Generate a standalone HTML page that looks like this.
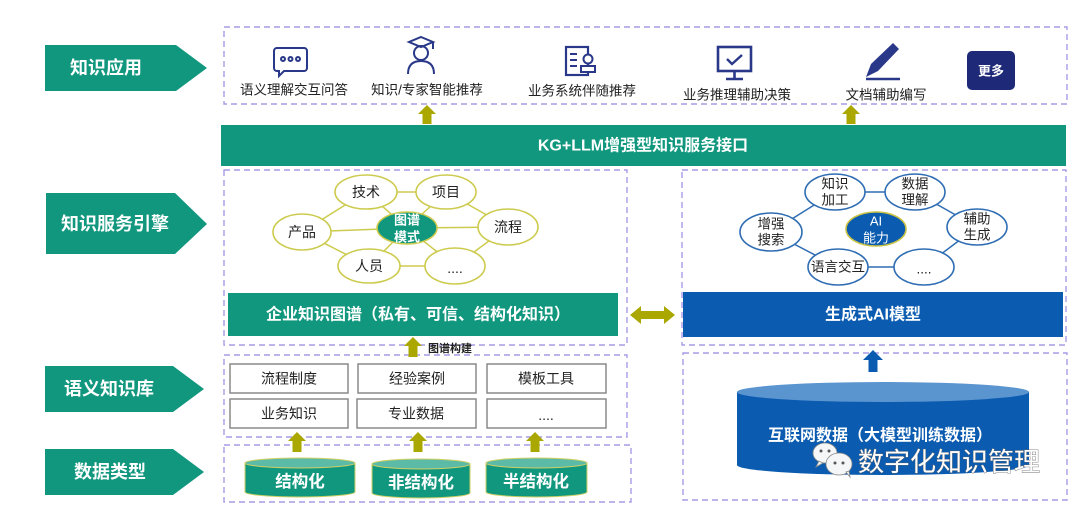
<!DOCTYPE html>
<html><head><meta charset="utf-8">
<style>
html,body{margin:0;padding:0;background:#fff;}
svg{display:block;}
text{font-family:"Liberation Sans","Noto Sans CJK SC",sans-serif;}
</style></head>
<body>
<svg width="1080" height="509" viewBox="0 0 1080 509" xmlns="http://www.w3.org/2000/svg">
<rect width="1080" height="509" fill="#fff"/>

<!-- left labels -->
<g fill="#10977e">
<polygon points="45,45 176,45 207,68 176,91 45,91"/>
<polygon points="46,193 175,193 207,224 175,254 46,254"/>
<polygon points="45,366 173,366 204,389 173,412 45,412"/>
<polygon points="45,449 173,449 204,472 173,495 45,495"/>
</g>
<g fill="#fff" font-size="18" font-weight="bold" text-anchor="middle" dominant-baseline="central">
<text x="106" y="68">知识应用</text>
<text x="115" y="224">知识服务引擎</text>
<text x="109" y="389">语义知识库</text>
<text x="110" y="472">数据类型</text>
</g>

<!-- dashed boxes -->
<g fill="none" stroke="#a99be6" stroke-width="1.4" stroke-dasharray="6,4">
<rect x="224" y="27" width="843" height="77"/>
<rect x="224" y="170" width="403" height="175"/>
<rect x="682" y="170" width="384" height="175"/>
<rect x="224" y="355" width="403" height="82"/>
<rect x="224" y="445" width="407" height="57"/>
<rect x="683" y="353" width="384" height="147"/>
</g>

<!-- icons -->
<g fill="none" stroke="#2a3889" stroke-width="2">
<path d="M277,48 h27 a3,3 0 0 1 3,3 v17 a3,3 0 0 1 -3,3 h-20 l-5,5 v-5 h-2 a3,3 0 0 1 -3,-3 v-17 a3,3 0 0 1 3,-3 z"/>
<circle cx="283" cy="59" r="2"/><circle cx="290.5" cy="59" r="2"/><circle cx="298" cy="59" r="2"/>
<polygon points="421,37 433,42 421,47 409,42"/>
<line x1="433" y1="42" x2="433" y2="49"/>
<circle cx="421" cy="53" r="7"/>
<path d="M408,74 q0,-13 13,-13 q13,0 13,13"/>
<rect x="566" y="47" width="22" height="28" stroke-width="2.2"/>
<line x1="570" y1="54" x2="577" y2="54"/><line x1="570" y1="60" x2="577" y2="60"/><line x1="570" y1="66" x2="577" y2="66"/>
<circle cx="588" cy="59" r="4.5" fill="#fff"/>
<rect x="581" y="66" width="14" height="6" fill="#fff"/>
<rect x="718" y="47" width="33" height="24" stroke-width="2.6"/>
<path d="M727,59 l5,5 l10,-9" stroke-width="2.4"/>
<line x1="734.5" y1="71" x2="734.5" y2="78" stroke-width="2.6"/>
<line x1="726" y1="79" x2="743" y2="79" stroke-width="2.6"/>
<line x1="866" y1="79" x2="900" y2="79" stroke-width="2.4"/>
</g>
<polygon points="866,77 871,64 893,43 899,49 878,71" fill="#2a3889"/>
<rect x="967" y="51" width="48" height="39" rx="5" fill="#1e2a78"/>
<text x="991" y="71" fill="#fff" font-size="13" font-weight="bold" text-anchor="middle" dominant-baseline="central">更多</text>

<g fill="#222" font-size="13.5" text-anchor="middle" dominant-baseline="central">
<text x="294" y="90">语义理解交互问答</text>
<text x="427" y="90">知识/专家智能推荐</text>
<text x="582" y="91">业务系统伴随推荐</text>
<text x="737" y="95">业务推理辅助决策</text>
<text x="886" y="95">文档辅助编写</text>
</g>

<!-- olive arrows top -->
<g fill="#aaa700">
<polygon points="418,114 427,105 436,114 431.5,114 431.5,124 422.5,124 422.5,114"/>
<polygon points="842,114 851,105 860,114 855.5,114 855.5,124 846.5,124 846.5,114"/>
</g>

<!-- KG bar -->
<rect x="221" y="125" width="845" height="41" fill="#10977e"/>
<text x="643" y="146" fill="#fff" font-size="16" font-weight="bold" text-anchor="middle" dominant-baseline="central">KG+LLM增强型知识服务接口</text>

<!-- left graph -->
<g stroke="#cdcb4e" stroke-width="1.5">
<line x1="366" y1="192" x2="446" y2="192"/>
<line x1="446" y1="192" x2="508" y2="227"/>
<line x1="508" y1="227" x2="455" y2="266"/>
<line x1="455" y1="266" x2="369" y2="266"/>
<line x1="369" y1="266" x2="302" y2="232"/>
<line x1="302" y1="232" x2="366" y2="192"/>
<line x1="407" y1="228" x2="366" y2="192"/>
<line x1="407" y1="228" x2="446" y2="192"/>
<line x1="407" y1="228" x2="302" y2="232"/>
<line x1="407" y1="228" x2="508" y2="227"/>
<line x1="407" y1="228" x2="369" y2="266"/>
<line x1="407" y1="228" x2="455" y2="266"/>
</g>
<g fill="#fff" stroke="#cdcb4e" stroke-width="1.6">
<ellipse cx="366" cy="192" rx="31" ry="17"/>
<ellipse cx="446" cy="192" rx="30" ry="17"/>
<ellipse cx="302" cy="232" rx="29" ry="18"/>
<ellipse cx="508" cy="227" rx="30" ry="18"/>
<ellipse cx="369" cy="266" rx="31" ry="17"/>
<ellipse cx="455" cy="266" rx="30" ry="18"/>
<ellipse cx="407" cy="228" rx="30" ry="16" fill="#10977e"/>
</g>
<g fill="#222" font-size="14" text-anchor="middle" dominant-baseline="central">
<text x="366" y="192">技术</text>
<text x="446" y="192">项目</text>
<text x="302" y="232">产品</text>
<text x="508" y="227">流程</text>
<text x="369" y="266">人员</text>
<text x="455" y="268">....</text>
</g>
<g fill="#fff" font-size="13" font-weight="bold" text-anchor="middle" dominant-baseline="central">
<text x="407" y="220">图谱</text>
<text x="407" y="237">模式</text>
</g>

<!-- right graph -->
<g stroke="#2f6db3" stroke-width="1.5">
<line x1="835" y1="192" x2="915" y2="192"/>
<line x1="915" y1="192" x2="977" y2="227"/>
<line x1="977" y1="227" x2="924" y2="267"/>
<line x1="924" y1="267" x2="838" y2="267"/>
<line x1="838" y1="267" x2="771" y2="232"/>
<line x1="771" y1="232" x2="835" y2="192"/>
</g>
<g fill="#fff" stroke="#2f6db3" stroke-width="1.6">
<ellipse cx="835" cy="192" rx="30" ry="18"/>
<ellipse cx="915" cy="192" rx="30" ry="18"/>
<ellipse cx="771" cy="232" rx="31" ry="19"/>
<ellipse cx="977" cy="227" rx="30" ry="18"/>
<ellipse cx="838" cy="267" rx="30" ry="18"/>
<ellipse cx="924" cy="267" rx="30" ry="18"/>
<ellipse cx="876" cy="229" rx="30" ry="17" fill="#0b5cb0" stroke="#c9c244"/>
</g>
<g fill="#222" font-size="13.5" text-anchor="middle" dominant-baseline="central">
<text x="835" y="184">知识</text><text x="835" y="200">加工</text>
<text x="915" y="184">数据</text><text x="915" y="200">理解</text>
<text x="771" y="224">增强</text><text x="771" y="240">搜索</text>
<text x="977" y="219">辅助</text><text x="977" y="235">生成</text>
<text x="838" y="267">语言交互</text>
<text x="924" y="269">....</text>
</g>
<g fill="#fff" font-size="13" text-anchor="middle" dominant-baseline="central">
<text x="876" y="221">AI</text>
<text x="876" y="238">能力</text>
</g>

<!-- bars -->
<rect x="228" y="293" width="390" height="43" fill="#10977e"/>
<text x="418" y="315" fill="#fff" font-size="16" font-weight="bold" text-anchor="middle" dominant-baseline="central">企业知识图谱（私有、可信、结构化知识）</text>
<rect x="683" y="292" width="380" height="45" fill="#0b5cb0"/>
<text x="873" y="315" fill="#fff" font-size="16" font-weight="bold" text-anchor="middle" dominant-baseline="central">生成式AI模型</text>

<!-- double arrow -->
<polygon points="630,315 641,306 641,311 664,311 664,306 675,315 664,324 664,319 641,319 641,324" fill="#aaa700"/>

<!-- 图谱构建 arrow -->
<polygon points="404,346 413,337 422,346 417.5,346 417.5,357 408.5,357 408.5,346" fill="#aaa700"/>
<text x="428" y="349" fill="#222" font-size="11" font-weight="bold" dominant-baseline="central">图谱构建</text>

<!-- semantic boxes -->
<g fill="#fff" stroke="#8a8a8a" stroke-width="1.5">
<rect x="230" y="364" width="118" height="29"/>
<rect x="358" y="364" width="118" height="29"/>
<rect x="487" y="364" width="119" height="29"/>
<rect x="230" y="399" width="118" height="29"/>
<rect x="357" y="399" width="119" height="29"/>
<rect x="487" y="399" width="119" height="29"/>
</g>
<g fill="#222" font-size="14" text-anchor="middle" dominant-baseline="central">
<text x="289" y="378.5">流程制度</text>
<text x="417" y="378.5">经验案例</text>
<text x="546" y="378.5">模板工具</text>
<text x="289" y="413.5">业务知识</text>
<text x="416" y="413.5">专业数据</text>
<text x="546" y="415">....</text>
</g>

<!-- up arrows to semantic -->
<g fill="#aaa700">
<polygon points="288,441 297,432 306,441 301.5,441 301.5,452 292.5,452 292.5,441"/>
<polygon points="409,441 418,432 427,441 422.5,441 422.5,452 413.5,452 413.5,441"/>
<polygon points="526,441 535,432 544,441 539.5,441 539.5,452 530.5,452 530.5,441"/>
</g>

<!-- cylinders teal -->
<g stroke="#cfcf66" stroke-width="1">
<path d="M245,463 v29 a55,5 0 0 0 110,0 v-29 z" fill="#10977e"/>
<ellipse cx="300" cy="463" rx="55" ry="5" fill="#5cbba6"/>
<path d="M372,464 v29 a49,5 0 0 0 98,0 v-29 z" fill="#10977e"/>
<ellipse cx="421" cy="464" rx="49" ry="5" fill="#5cbba6"/>
<path d="M486,463 v29 a50.5,5 0 0 0 101,0 v-29 z" fill="#10977e"/>
<ellipse cx="536.5" cy="463" rx="50.5" ry="5" fill="#5cbba6"/>
</g>
<g fill="#fff" font-size="16.5" font-weight="bold" text-anchor="middle" dominant-baseline="central">
<text x="300" y="482">结构化</text>
<text x="421" y="483">非结构化</text>
<text x="536" y="482">半结构化</text>
</g>

<!-- blue arrow -->
<polygon points="863,360 873,350 883,360 877.5,360 877.5,372 868.5,372 868.5,360" fill="#0b5cb0"/>

<!-- big blue cylinder -->
<path d="M737,392 v73 a146,10 0 0 0 292,0 v-73 z" fill="#0b5cb0"/>
<ellipse cx="883" cy="392" rx="146" ry="10" fill="#5b95d0"/>
<text x="880" y="436" fill="#fff" font-size="16" font-weight="bold" text-anchor="middle" dominant-baseline="central">互联网数据（大模型训练数据）</text>

<!-- wechat watermark -->
<g stroke="#888" stroke-width="0.8" fill="#f4f6f8">
<ellipse cx="825" cy="453" rx="12" ry="10"/>
<path d="M819,461 l-3,6 l7,-4 z"/>
<ellipse cx="839" cy="464" rx="13" ry="11"/>
<path d="M846,472 l4,5 l-1,-6 z"/>
</g>
<g fill="#555">
<circle cx="821" cy="451" r="1.5"/><circle cx="829" cy="451" r="1.5"/>
<circle cx="835" cy="463" r="1.5"/><circle cx="843" cy="463" r="1.5"/>
</g>
<text x="858" y="462" fill="#fff" stroke="#666" stroke-width="0.8" paint-order="stroke" font-size="26" dominant-baseline="central">数字化知识管理</text>
</svg>
</body></html>
